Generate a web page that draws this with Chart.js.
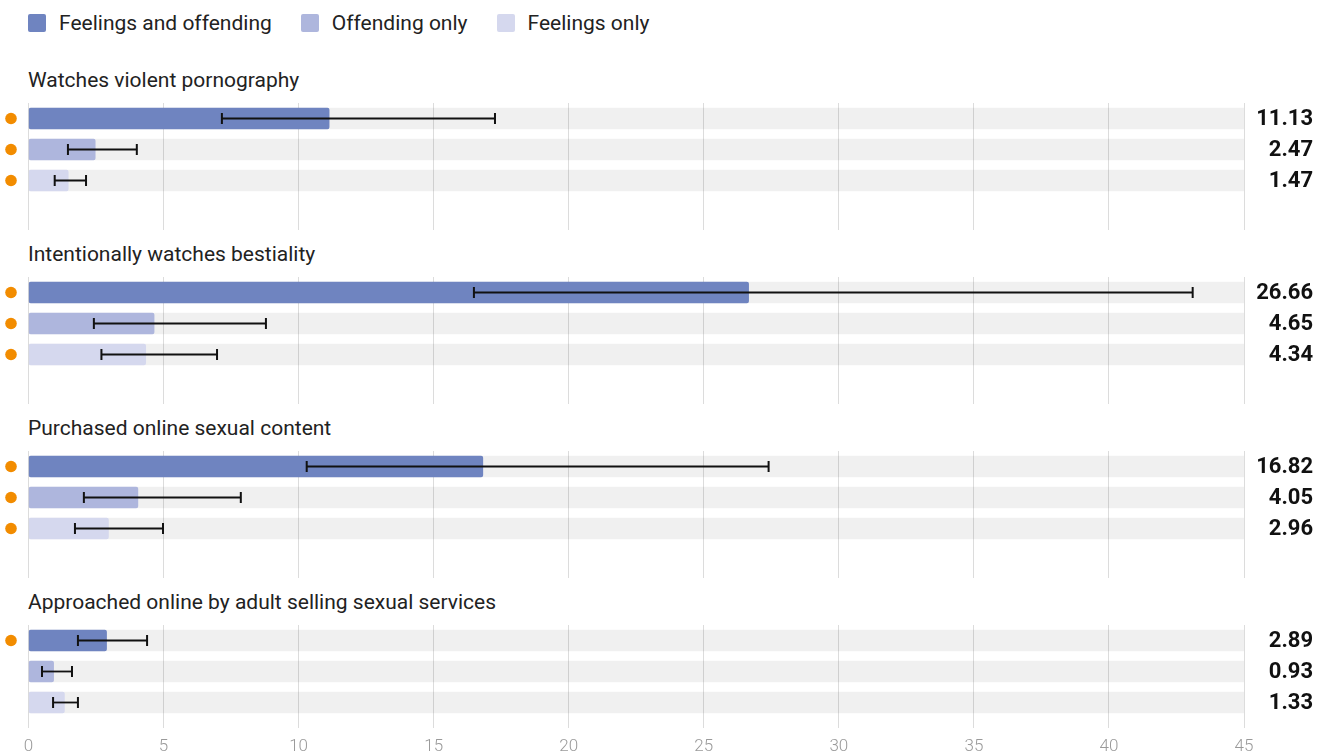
<!DOCTYPE html>
<html lang="en">
<head>
<meta charset="UTF-8">
<title>Online behaviours by group</title>
<script src="https://cdn.jsdelivr.net/npm/chart.js@4.4.0/dist/chart.umd.min.js"></script>
<style>
    html, body { margin: 0; padding: 0; background: #fff; }
    body { width: 1327px; height: 754px; position: relative; overflow: hidden; font-family: 'Roboto', sans-serif; color: #222; }
    #legend { position: absolute; left: 28px; top: 11px; display: flex; font-size: 21px; line-height: 24px; }
    #legend .item { display: flex; align-items: center; margin-right: 29px; }
    #legend .sw { width: 18px; height: 18px; border-radius: 2px; margin-right: 13px; }
    .title { position: absolute; left: 28px; font-size: 21px; line-height: 24px; white-space: nowrap; }
    canvas { position: absolute; left: 0; }
</style>
</head>
<body>
<div id="legend"></div>

<script>
    // categories (one small chart per behaviour)
    const behaviours = [
        'Watches violent pornography',
        'Intentionally watches bestiality',
        'Purchased online sexual content',
        'Approached online by adult selling sexual services'
    ];
    const seriesNames = ['Feelings and offending', 'Offending only', 'Feelings only'];
    const seriesColors = ['#6f84c0', '#aeb6dd', '#d5d8ee'];

    // odds ratios, one value per behaviour
    const feelingsAndOffending = [11.13, 26.66, 16.82, 2.89];
    const offendingOnly        = [2.47, 4.65, 4.05, 0.93];
    const feelingsOnly         = [1.47, 4.34, 2.96, 1.33];

    // confidence intervals
    const feelingsAndOffendingLow  = [7.16, 16.49, 10.30, 1.83];
    const feelingsAndOffendingHigh = [17.27, 43.10, 27.40, 4.39];
    const offendingOnlyLow  = [1.46, 2.42, 2.05, 0.50];
    const offendingOnlyHigh = [4.01, 8.79, 7.86, 1.61];
    const feelingsOnlyLow   = [0.97, 2.70, 1.72, 0.91];
    const feelingsOnlyHigh  = [2.13, 6.98, 4.98, 1.83];

    // significant results (orange dot)
    const feelingsAndOffendingSig = [true, true, true, true];
    const offendingOnlySig        = [true, true, true, false];
    const feelingsOnlySig         = [true, true, true, false];

    const xTicks = [0, 5, 10, 15, 20, 25, 30, 35, 40, 45];
    const xMax = 45;

    const values = [feelingsAndOffending, offendingOnly, feelingsOnly];
    const lows = [feelingsAndOffendingLow, offendingOnlyLow, feelingsOnlyLow];
    const highs = [feelingsAndOffendingHigh, offendingOnlyHigh, feelingsOnlyHigh];
    const sigs = [feelingsAndOffendingSig, offendingOnlySig, feelingsOnlySig];

    // legend
    const legend = document.getElementById('legend');
    seriesNames.forEach((name, i) => {
        const item = document.createElement('div');
        item.className = 'item';
        item.innerHTML = `<span class="sw" style="background:${seriesColors[i]}"></span>${name}`;
        legend.appendChild(item);
    });

    // error bars, dots and value labels
    const extras = {
        id: 'extras',
        afterDatasetsDraw(chart) {
            const g = chart.options.plugins.extras.group;
            const ctx = chart.ctx;
            const x = chart.scales.x;
            const bars = chart.getDatasetMeta(1).data;
            ctx.save();
            bars.forEach((bar, i) => {
                const y = bar.y;
                const x0 = x.getPixelForValue(lows[i][g]);
                const x1 = x.getPixelForValue(highs[i][g]);
                ctx.strokeStyle = '#111';
                ctx.lineWidth = 1.8;
                ctx.beginPath();
                ctx.moveTo(x0, y); ctx.lineTo(x1, y);
                ctx.stroke();
                ctx.lineWidth = 2;
                ctx.beginPath();
                ctx.moveTo(x0, y - 5.5); ctx.lineTo(x0, y + 5.5);
                ctx.moveTo(x1, y - 5.5); ctx.lineTo(x1, y + 5.5);
                ctx.stroke();

                if (sigs[i][g]) {
                    ctx.fillStyle = '#f28c00';
                    ctx.beginPath();
                    ctx.arc(11, y, 5.8, 0, Math.PI * 2);
                    ctx.fill();
                }

                ctx.fillStyle = '#111';
                ctx.font = 'bold 22px Roboto';
                ctx.textAlign = 'right';
                ctx.textBaseline = 'middle';
                ctx.fillText(values[i][g].toFixed(2), 1313, y + 1);
            });
            ctx.restore();
        }
    };

    behaviours.forEach((name, g) => {
        const last = g === behaviours.length - 1;
        const top = 97 + 174 * g;

        const title = document.createElement('div');
        title.className = 'title';
        title.style.top = (68 + 174 * g) + 'px';
        title.textContent = name;
        document.body.appendChild(title);

        const canvas = document.createElement('canvas');
        const h = last ? 140 : 133;
        canvas.style.top = top + 'px';
        canvas.style.width = '1327px';
        canvas.style.height = h + 'px';
        canvas.width = 1327;
        canvas.height = h;
        document.body.appendChild(canvas);

        new Chart(canvas, {
            type: 'bar',
            data: {
                labels: seriesNames,
                datasets: [
                    {
                        data: seriesNames.map(() => xMax),
                        backgroundColor: 'rgba(0,0,0,0.058)',
                        grouped: false,
                        barThickness: 21,
                        order: 2
                    },
                    {
                        data: values.map(v => v[g]),
                        backgroundColor: seriesColors,
                        grouped: false,
                        barThickness: 21,
                        borderRadius: 2,
                        borderSkipped: false,
                        order: 1
                    }
                ]
            },
            options: {
                indexAxis: 'y',
                responsive: false,
                animation: false,
                layout: { padding: { left: 28.5, right: 83, top: 6, bottom: 0 } },
                scales: {
                    x: {
                        min: 0,
                        max: xMax,
                        afterBuildTicks: s => { s.ticks = xTicks.map(v => ({ value: v })); },
                        afterFit: s => { s.height = last ? 41 : 34; },
                        border: { display: false },
                        grid: { color: '#dcdcdc', tickColor: '#dcdcdc', drawTicks: true, tickLength: last ? 10 : 34 },
                        ticks: {
                            display: last,
                            color: '#9a9a9a',
                            padding: 9,
                            font: { family: 'Roboto', size: 17, weight: '300' },
                            maxRotation: 0
                        }
                    },
                    y: { display: false }
                },
                plugins: {
                    legend: { display: false },
                    tooltip: { enabled: false },
                    extras: { group: g }
                }
            },
            plugins: [extras]
        });
    });
</script>
</body>
</html>
